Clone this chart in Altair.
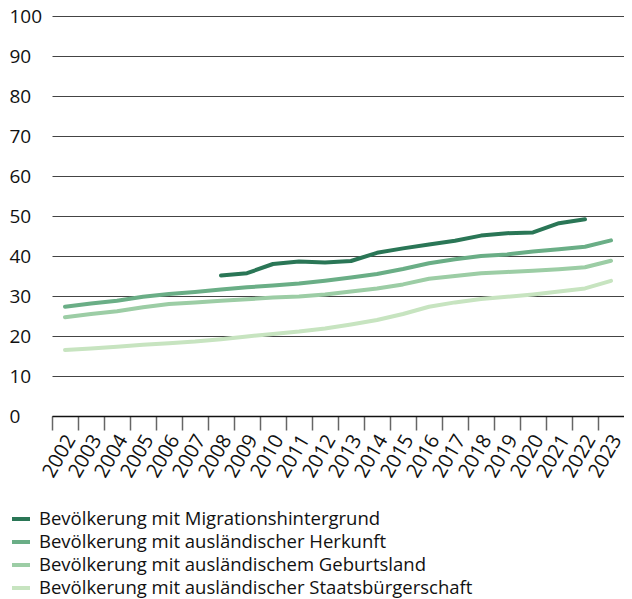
import altair as alt
import pandas as pd

years = ["2002", "2003", "2004", "2005", "2006", "2007", "2008", "2009", "2010", "2011", "2012",
         "2013", "2014", "2015", "2016", "2017", "2018", "2019", "2020", "2021", "2022", "2023"]

series_names = [
    "Bevölkerung mit Migrationshintergrund",
    "Bevölkerung mit ausländischer Herkunft",
    "Bevölkerung mit ausländischem Geburtsland",
    "Bevölkerung mit ausländischer Staatsbürgerschaft",
]

migrationshintergrund = [None, None, None, None, None, None, 35.1, 35.7, 38.0, 38.6, 38.4,
                         38.75, 40.8, 41.9, 42.9, 43.8, 45.1, 45.7, 45.9, 48.2, 49.2, None]
herkunft = [27.3, 28.1, 28.8, 29.8, 30.5, 31.0, 31.6, 32.2, 32.6, 33.1, 33.8,
            34.6, 35.5, 36.75, 38.2, 39.2, 40.0, 40.4, 41.1, 41.7, 42.3, 43.9]
geburtsland = [24.7, 25.5, 26.2, 27.2, 28.0, 28.4, 28.8, 29.2, 29.6, 29.9, 30.4,
               31.1, 31.9, 32.9, 34.3, 35.0, 35.7, 36.0, 36.3, 36.7, 37.2, 38.8]
staatsbuergerschaft = [16.5, 16.9, 17.3, 17.8, 18.2, 18.6, 19.2, 19.9, 20.5, 21.1, 21.9,
                       22.9, 24.0, 25.5, 27.3, 28.4, 29.25, 29.8, 30.4, 31.1, 31.9, 33.8]

colors = ["#2a7656", "#6aae86", "#9ccda5", "#c7e4c0"]

all_series = [migrationshintergrund, herkunft, geburtsland, staatsbuergerschaft]
rows = []
for name, vals in zip(series_names, all_series):
    for y, v in zip(years, vals):
        if v is not None:
            rows.append({"Jahr": y, "Wert": v, "Reihe": name})
df = pd.DataFrame(rows)

FONT = "Open Sans"

chart = (
    alt.Chart(df)
    .mark_line(strokeWidth=4, strokeCap="round", strokeJoin="round")
    .encode(
        x=alt.X(
            "Jahr:O",
            sort=years,
            title=None,
            scale=alt.Scale(type="band", paddingInner=0, paddingOuter=0),
            axis=alt.Axis(
                bandPosition=0,
                labelAngle=-60,
                labelAlign="right",
                labelBaseline="middle",
                labelOffset=6,
                labelPadding=6,
                labelFontSize=20,
                labelColor="#111111",
                labelFont=FONT,
                tickSize=14,
                tickColor="#666666",
                tickWidth=1.5,
                domainColor="#111111",
                domainWidth=1.5,
                grid=False,
            ),
        ),
        y=alt.Y(
            "Wert:Q",
            title=None,
            scale=alt.Scale(domain=[0, 100], nice=False),
            axis=alt.Axis(
                values=[0, 10, 20, 30, 40, 50, 60, 70, 80, 90, 100],
                domain=False,
                ticks=False,
                grid=True,
                gridColor="#444444",
                gridWidth=1.2,
                labelAlign="left",
                labelBaseline="middle",
                labelPadding=43,
                labelFontSize=19,
                labelColor="#111111",
                labelFont=FONT,
            ),
        ),
        color=alt.Color(
            "Reihe:N",
            sort=series_names,
            scale=alt.Scale(domain=series_names, range=colors),
            legend=alt.Legend(
                title=None,
                orient="none",
                legendX=-42,
                legendY=492,
                direction="vertical",
                symbolType="stroke",
                symbolSize=324,
                symbolStrokeWidth=4,
                labelFontSize=18.5,
                labelFont=FONT,
                labelColor="#111111",
                labelOffset=7,
                rowPadding=2,
                labelLimit=600,
                padding=0,
            ),
        ),
    )
    .properties(
        width=572,
        height=400,
        autosize=alt.AutoSizeParams(type="none"),
        padding={"left": 44, "top": 8, "right": 0, "bottom": 183},
    )
    .configure_view(stroke=None)
)

chart.save("out.html", embed_options={"renderer": "svg", "actions": False})
